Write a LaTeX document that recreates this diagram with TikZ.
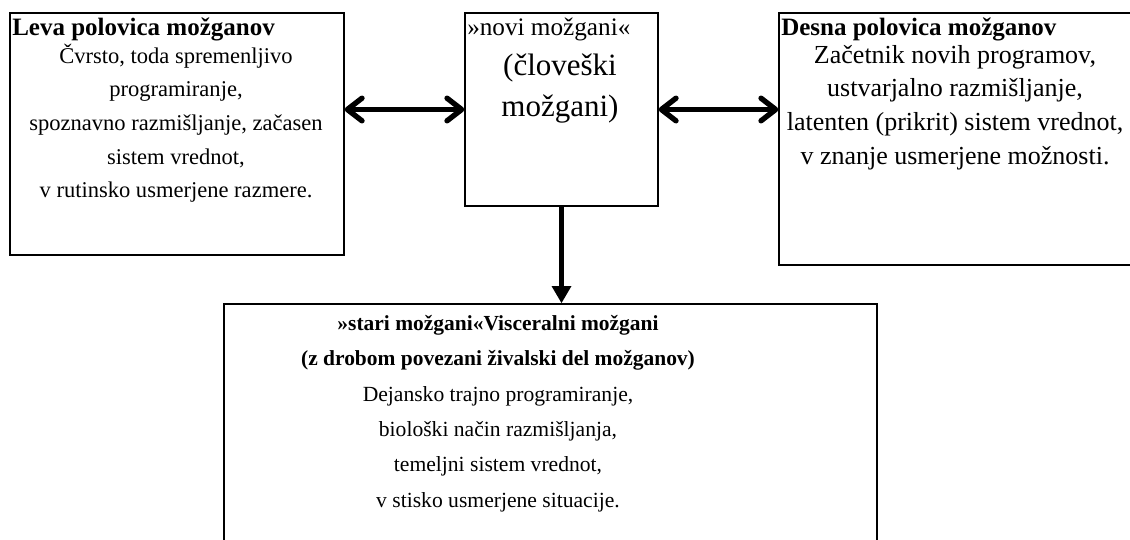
\documentclass[tikz,border=0pt]{standalone}
\usepackage{fontspec}
\setmainfont{Liberation Serif}
\usetikzlibrary{arrows.meta}

% text block: fixed size and line spacing, first line on the node's base
\newcommand{\txtblock}[3]{{\fontsize{#1}{#2}\selectfont\begin{tabular}[t]{@{}c@{}}#3\end{tabular}}}

\begin{document}
\begin{tikzpicture}[x=0.75pt,y=-0.75pt,
  box/.style={draw=black, line width=1pt, fill=none, inner sep=0pt},
  txt/.style={inner sep=0pt, anchor=base},
  ttl/.style={inner sep=0pt, anchor=base west},
  dbl/.style={line width=4pt, {Straight Barb[round,length=11pt,width=17pt]}-{Straight Barb[round,length=11pt,width=17pt]}},
  down/.style={line width=4pt, -{Triangle[length=13pt,width=14pt]}}
]
\useasboundingbox (0,0) rectangle (1130,539);
\clip (0,0) rectangle (1130,539);

% frames
\node[box, minimum width=334*0.75pt, minimum height=242*0.75pt] (left) at (177,134) {};
\node[box, minimum width=193*0.75pt, minimum height=193*0.75pt] (mid) at (561.5,109.5) {};
\node[box, minimum width=356*0.75pt, minimum height=252*0.75pt] (right) at (957,139) {};
\node[box, minimum width=653*0.75pt, minimum height=241*0.75pt] (bot) at (550.5,424.5) {};

% left hemisphere
\node[ttl, font=\fontsize{18.75}{22}\selectfont\bfseries] (lt) at (12,35) {Leva polovica možganov};
\node[txt] (lb) at (176,63) {\txtblock{16.9}{25.3}{Čvrsto, toda spremenljivo\\ programiranje,\\ spoznavno razmišljanje, začasen\\ sistem vrednot,\\ v rutinsko usmerjene razmere.}};

% new brain
\node[ttl, font=\fontsize{18.9}{22}\selectfont] (mt) at (467,35) {»novi možgani«};
\node[txt] (mb) at (560,75) {\txtblock{23.25}{30.75}{(človeški\\ možgani)}};

% right hemisphere
\node[ttl, font=\fontsize{18.75}{22}\selectfont\bfseries] (rt) at (781,35) {Desna polovica možganov};
\node[txt] (rb) at (955,63) {\txtblock{19.5}{25.3}{Začetnik novih programov,\\ ustvarjalno razmišljanje,\\ latenten (prikrit) sistem vrednot,\\ v znanje usmerjene možnosti.}};

% old brain
\node[txt] (bt) at (498,330) {\txtblock{16.1}{26.6}{\bfseries »stari možgani«Visceralni možgani\\ \bfseries (z drobom povezani živalski del možganov)}};
\node[txt] (bb) at (498,401) {\txtblock{16.2}{26.6}{Dejansko trajno programiranje,\\ biološki način razmišljanja,\\ temeljni sistem vrednot,\\ v stisko usmerjene situacije.}};

% connections
\draw[dbl] (mid.west -| left.east) -- (mid.west);
\draw[dbl] (mid.east) -- (mid.east -| right.west);
\draw[down] (mid.south) -- (mid.south |- bot.north);
\end{tikzpicture}
\end{document}
